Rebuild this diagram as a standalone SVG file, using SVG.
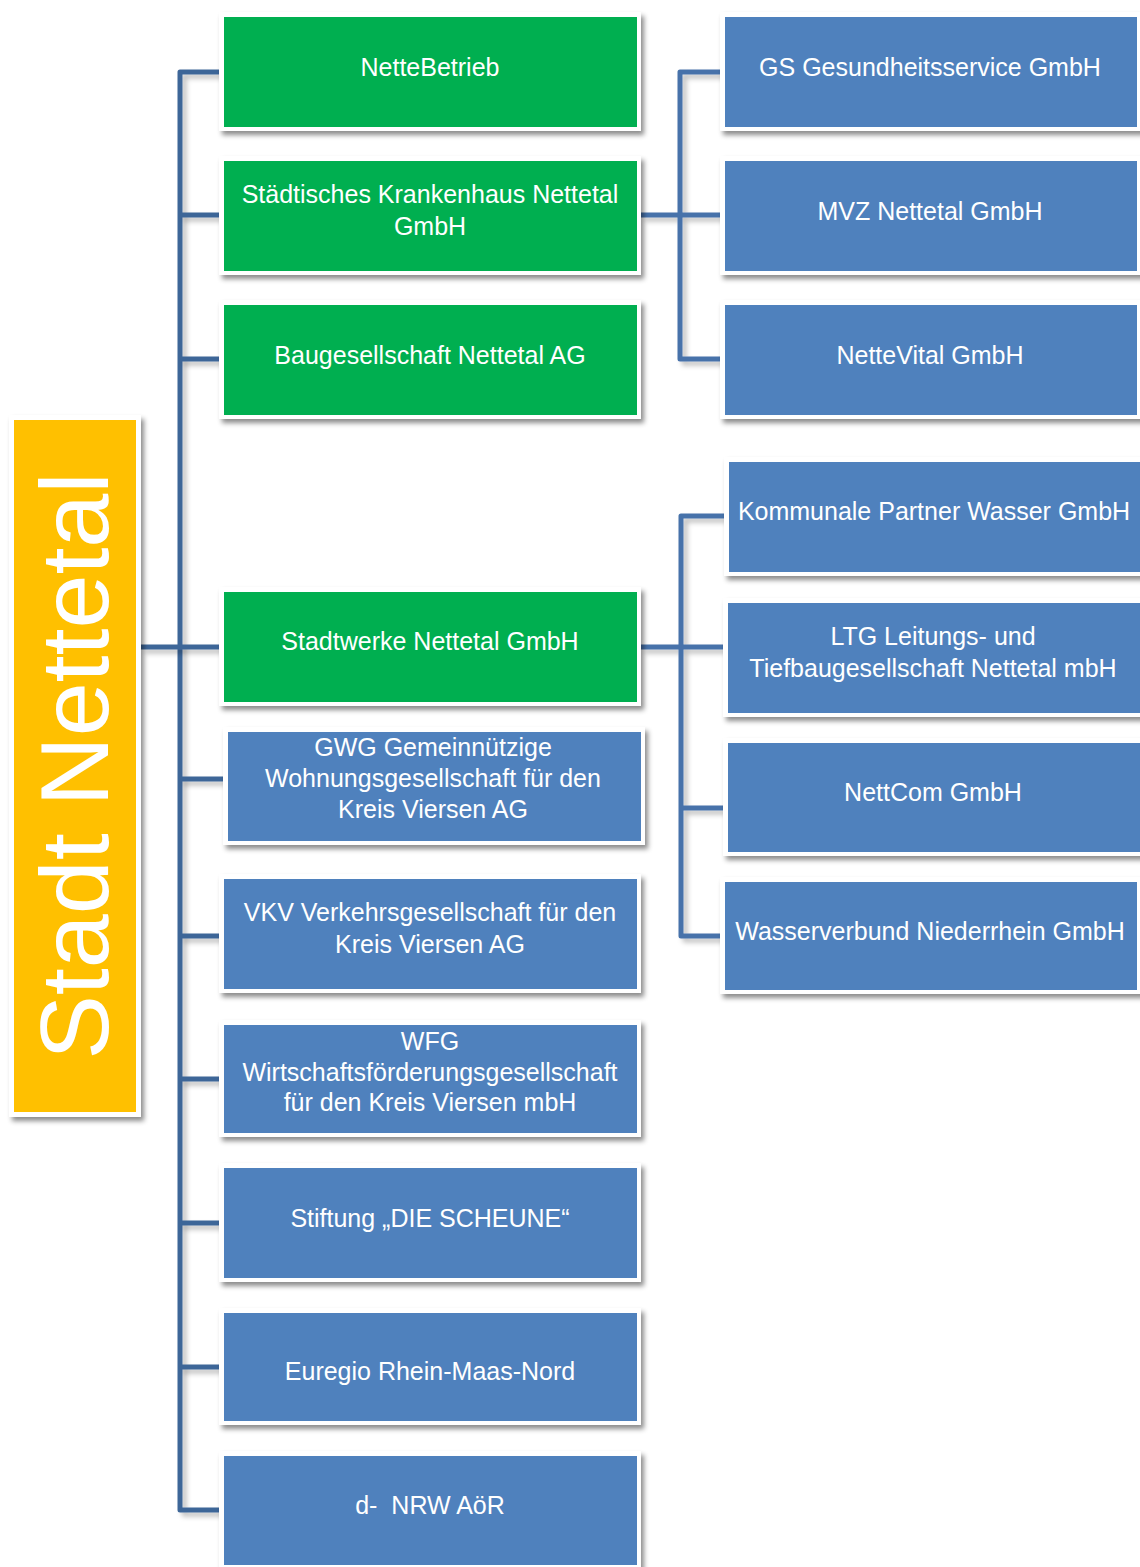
<svg xmlns="http://www.w3.org/2000/svg" width="1140" height="1567" viewBox="0 0 1140 1567">
<style>
.frame{fill:#ffffff;filter:url(#sh)}
.green{fill:#00AF50}
.blue{fill:#4F81BD}
.yellow{fill:#FFC000}
.lbl{font-family:"Liberation Sans",Arial,sans-serif;font-size:25px;fill:#ffffff;text-anchor:middle}
.root{font-family:"Liberation Sans",Arial,sans-serif;font-size:97px;fill:#ffffff;text-anchor:middle}
.conn{fill:none;stroke:#3E6698;stroke-width:5;stroke-linejoin:round;filter:url(#shl)}
.conn2{fill:none;stroke:#4672AA;stroke-width:5;stroke-linejoin:round;filter:url(#shl)}
</style>
<defs>
<filter id="sh" x="-10%" y="-10%" width="120%" height="130%">
<feDropShadow dx="3" dy="4" stdDeviation="2.5" flood-color="#000000" flood-opacity="0.45"/>
</filter>
<filter id="shl" x="-10%" y="-10%" width="130%" height="130%">
<feDropShadow dx="4" dy="4" stdDeviation="2.5" flood-color="#000000" flood-opacity="0.25"/>
</filter>
</defs>
<rect width="1140" height="1567" fill="#ffffff"/>

<g id="connectors">
<path class="conn" d="M219,72 H180 V1510 H219"/>
<path class="conn" d="M180,215 H219 M180,359 H219 M141,647 H219 M180,779 H223 M180,936 H219 M180,1079 H219 M180,1223 H219 M180,1367 H219"/>
<path class="conn2" d="M720,72 H680 V359 H720 M641,215 H720"/>
<path class="conn2" d="M724,516 H681 V936 H720 M641,647 H724 M681,808 H723"/>
</g>

<g id="root">
<rect class="frame" x="9" y="415" width="132" height="702"/>
<rect class="yellow" x="14" y="420" width="122" height="692"/>
<text class="root" transform="translate(108,766) rotate(-90)" x="0" y="0">Stadt Nettetal</text>
</g>

<g id="nettebetrieb">
<rect class="frame" x="219" y="12" width="422" height="119"/>
<rect class="green" x="224" y="17" width="413" height="110"/>
<text class="lbl" x="430" y="76">NetteBetrieb</text>
</g>
<g id="krankenhaus">
<rect class="frame" x="219" y="156" width="422" height="119"/>
<rect class="green" x="224" y="161" width="413" height="110"/>
<text class="lbl" x="430" y="203">Städtisches Krankenhaus Nettetal</text>
<text class="lbl" x="430" y="235">GmbH</text>
</g>
<g id="baugesellschaft">
<rect class="frame" x="219" y="300" width="422" height="119"/>
<rect class="green" x="224" y="305" width="413" height="110"/>
<text class="lbl" x="430" y="364">Baugesellschaft Nettetal AG</text>
</g>
<g id="stadtwerke">
<rect class="frame" x="219" y="587" width="422" height="119"/>
<rect class="green" x="224" y="592" width="413" height="110"/>
<text class="lbl" x="430" y="650">Stadtwerke Nettetal GmbH</text>
</g>
<g id="gwg">
<rect class="frame" x="223" y="727" width="422" height="118"/>
<rect class="blue" x="228" y="732" width="413" height="109"/>
<text class="lbl" x="433" y="756">GWG Gemeinnützige</text>
<text class="lbl" x="433" y="787">Wohnungsgesellschaft für den</text>
<text class="lbl" x="433" y="818">Kreis Viersen AG</text>
</g>
<g id="vkv">
<rect class="frame" x="219" y="874" width="422" height="119"/>
<rect class="blue" x="224" y="879" width="413" height="110"/>
<text class="lbl" x="430" y="921">VKV Verkehrsgesellschaft für den</text>
<text class="lbl" x="430" y="953">Kreis Viersen AG</text>
</g>
<g id="wfg">
<rect class="frame" x="219" y="1020" width="422" height="117"/>
<rect class="blue" x="224" y="1025" width="413" height="108"/>
<text class="lbl" x="430" y="1050">WFG</text>
<text class="lbl" x="430" y="1081">Wirtschaftsförderungsgesellschaft</text>
<text class="lbl" x="430" y="1111">für den Kreis Viersen mbH</text>
</g>
<g id="stiftung">
<rect class="frame" x="219" y="1163" width="422" height="119"/>
<rect class="blue" x="224" y="1168" width="413" height="110"/>
<text class="lbl" x="430" y="1227">Stiftung „DIE SCHEUNE“</text>
</g>
<g id="euregio">
<rect class="frame" x="219" y="1308" width="422" height="117"/>
<rect class="blue" x="224" y="1313" width="413" height="108"/>
<text class="lbl" x="430" y="1380">Euregio Rhein-Maas-Nord</text>
</g>
<g id="dnrw">
<rect class="frame" x="219" y="1451" width="422" height="119"/>
<rect class="blue" x="224" y="1456" width="413" height="109"/>
<text class="lbl" x="430" y="1514" xml:space="preserve">d-  NRW AöR</text>
</g>

<g id="gs">
<rect class="frame" x="720" y="12" width="425" height="119"/>
<rect class="blue" x="725" y="17" width="412" height="110"/>
<text class="lbl" x="930" y="76">GS Gesundheitsservice GmbH</text>
</g>
<g id="mvz">
<rect class="frame" x="720" y="156" width="425" height="119"/>
<rect class="blue" x="725" y="161" width="412" height="110"/>
<text class="lbl" x="930" y="220">MVZ Nettetal GmbH</text>
</g>
<g id="nettevital">
<rect class="frame" x="720" y="300" width="425" height="119"/>
<rect class="blue" x="725" y="305" width="412" height="110"/>
<text class="lbl" x="930" y="364">NetteVital GmbH</text>
</g>
<g id="kommunale">
<rect class="frame" x="724" y="457" width="425" height="119"/>
<rect class="blue" x="729" y="462" width="412" height="110"/>
<text class="lbl" x="934" y="520">Kommunale Partner Wasser GmbH</text>
</g>
<g id="ltg">
<rect class="frame" x="723" y="598" width="425" height="119"/>
<rect class="blue" x="728" y="603" width="412" height="110"/>
<text class="lbl" x="933" y="645">LTG Leitungs- und</text>
<text class="lbl" x="933" y="677">Tiefbaugesellschaft Nettetal mbH</text>
</g>
<g id="nettcom">
<rect class="frame" x="723" y="738" width="425" height="118"/>
<rect class="blue" x="728" y="743" width="412" height="109"/>
<text class="lbl" x="933" y="801">NettCom GmbH</text>
</g>
<g id="wasserverbund">
<rect class="frame" x="720" y="877" width="425" height="117"/>
<rect class="blue" x="725" y="882" width="412" height="108"/>
<text class="lbl" x="930" y="940">Wasserverbund Niederrhein GmbH</text>
</g>
</svg>
